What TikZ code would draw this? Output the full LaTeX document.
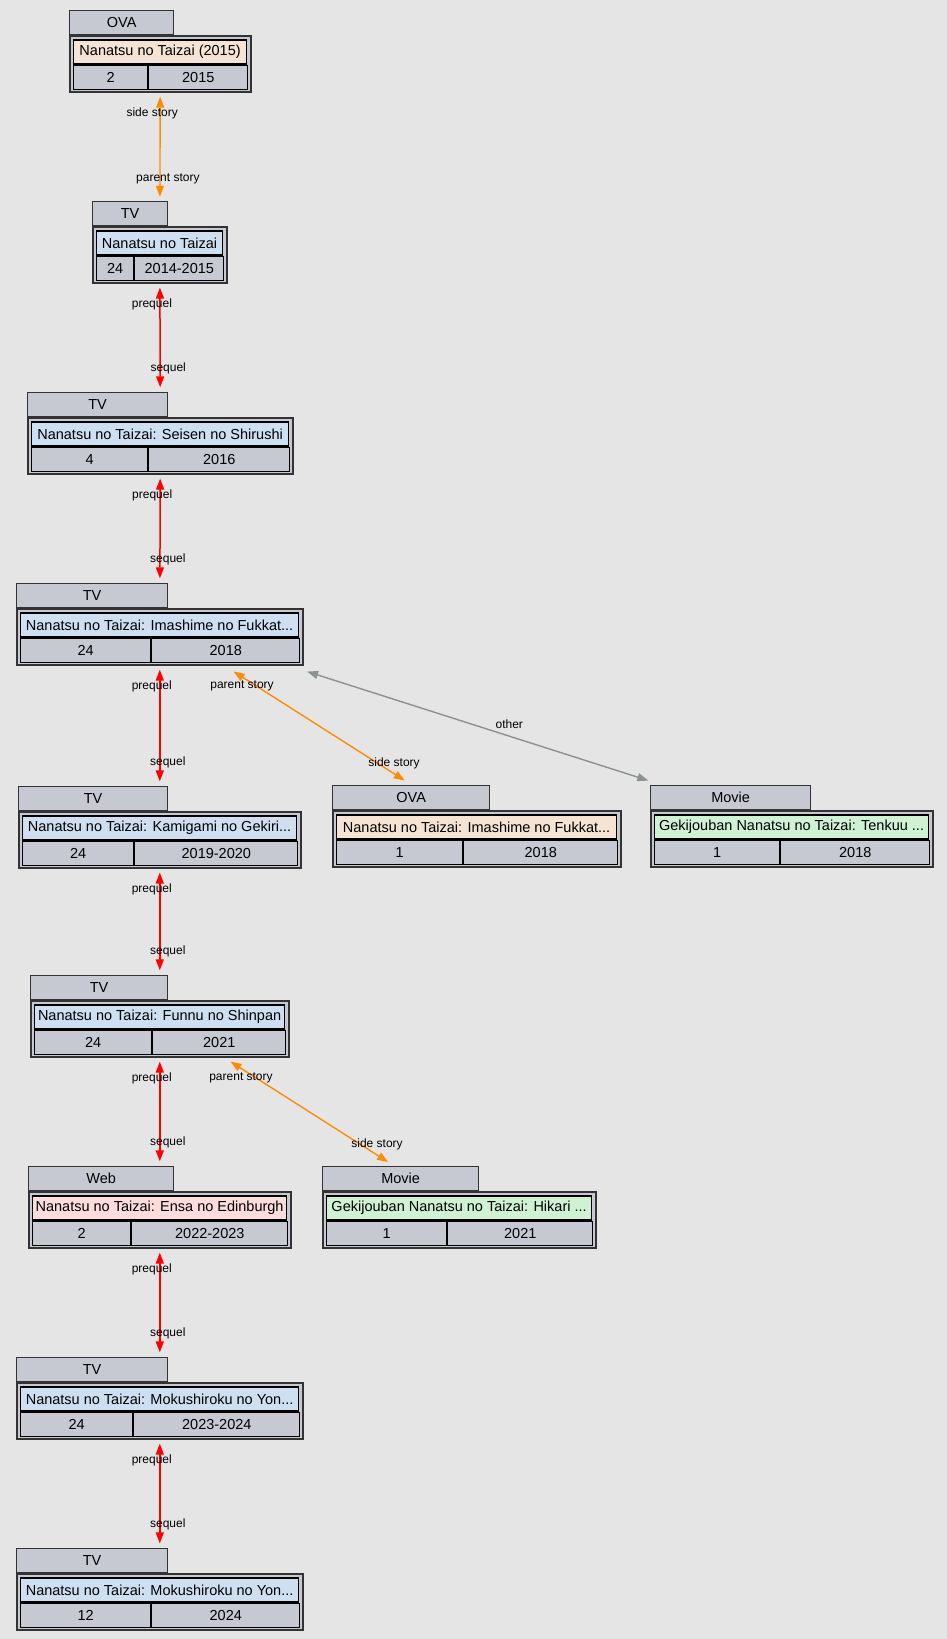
\documentclass[tikz,border=0pt]{standalone}
\usepackage{fontspec}
\setmainfont{Liberation Sans}
\usepackage{xcolor}
\usepackage{tikz}
\usetikzlibrary{arrows.meta,positioning,fit}

\definecolor{bgc}{HTML}{E5E5E5}
\definecolor{cellc}{HTML}{C6C9D1}
\definecolor{tvc}{HTML}{CFDFF2}
\definecolor{ovac}{HTML}{F5E4D3}
\definecolor{moviec}{HTML}{CFF2D4}
\definecolor{webc}{HTML}{FDDCDC}
\definecolor{sidec}{HTML}{FF8C00}
\definecolor{otherc}{HTML}{8A9292}

\begin{document}
\begin{tikzpicture}[x=1pt,y=-1pt,>={Triangle[length=11pt,width=8pt]},
    font=\fontsize{14.5}{17}\selectfont,
    tabbox/.style={draw=black!80,fill=cellc,line width=1.3pt,minimum height=24pt,inner sep=0pt,anchor=north west},
    outerbox/.style={draw=black!80,fill=cellc,line width=1.6pt,minimum height=56pt,inner sep=0pt,anchor=north west},
    cellbox/.style={draw=black,fill=cellc,line width=1.2pt,minimum height=24pt,inner sep=0pt,anchor=north west},
    seqline/.style={<->,red,line width=1.5pt,shorten <=3.5pt,shorten >=4.5pt},
    sideline/.style={<->,sidec,line width=1.4pt},
    otherline/.style={<->,otherc,line width=1.4pt},
    lbl/.style={font=\fontsize{12}{12}\selectfont,inner sep=0pt,text=black}]
    \path[use as bounding box,fill=bgc] (0,0) rectangle (947,1639);
    % name/left/top/type/tab width/box width/colour/title/eps width/eps/year
    \foreach \nm/\lx/\tyy/\kind/\tw/\bw/\col/\ttl/\ew/\eps/\yr in {
        o1/69/10/OVA/104/181/ovac/{Nanatsu no Taizai (2015)}/74/2/2015,
        t1/92/201/TV/75/134/tvc/{Nanatsu no Taizai}/37/24/2014-2015,
        t2/27/392/TV/140/265/tvc/{Nanatsu no Taizai: Seisen no Shirushi}/116/4/2016,
        t3/16/583/TV/151/286/tvc/{Nanatsu no Taizai: Imashime no Fukkat...}/130/24/2018,
        t4/18/786/TV/149/282/tvc/{Nanatsu no Taizai: Kamigami no Gekiri...}/111/24/2019-2020,
        o2/332/785/OVA/157/288/ovac/{Nanatsu no Taizai: Imashime no Fukkat...}/126/1/2018,
        m1/650/785/Movie/160/282/moviec/{Gekijouban Nanatsu no Taizai: Tenkuu ...}/125/1/2018,
        t5/30/975/TV/137/258/tvc/{Nanatsu no Taizai: Funnu no Shinpan}/117/24/2021,
        w1/28/1166/Web/145/262/webc/{Nanatsu no Taizai: Ensa no Edinburgh}/98/2/2022-2023,
        m2/322/1166/Movie/156/273/moviec/{Gekijouban Nanatsu no Taizai: Hikari ...}/120/1/2021,
        t6/16/1357/TV/151/286/tvc/{Nanatsu no Taizai: Mokushiroku no Yon...}/112/24/2023-2024,
        t7/16/1548/TV/151/286/tvc/{Nanatsu no Taizai: Mokushiroku no Yon...}/130/12/2024} {
        \node[tabbox,minimum width=\tw pt] (\nm-tab) at (\lx,\tyy) {\kind};
        \node[outerbox,minimum width=\bw pt] (\nm-box) at (\nm-tab.south west) {};
        \node[cellbox,fill=\col,minimum width=\bw pt-8pt] (\nm-title) at ([shift={(4,4)}]\nm-box.north west) {\ttl};
        \node[cellbox,minimum width=\ew pt] (\nm-eps) at (\nm-title.south west) {\eps};
        \node[cellbox,minimum width=\bw pt-8pt-\ew pt,right=0pt of \nm-eps] (\nm-year) {\yr};
        \node[fit=(\nm-tab)(\nm-box),inner sep=0pt] (\nm) {};
    }
    % prequel / sequel chain
    \foreach \a/\b in {t1/t2,t2/t3,t3/t4,t4/t5,t5/w1,w1/t6,t6/t7}
        \draw[seqline] (\a) -- node[lbl,at start,xshift=-8pt,yshift=-20pt] {prequel}
            node[lbl,at end,xshift=8pt,yshift=23pt] {sequel} (\b);
    \draw[sideline,shorten <=3.5pt,shorten >=4pt] (o1) -- node[lbl,at start,xshift=-8pt,yshift=-20pt] {side story}
        node[lbl,at end,xshift=8pt,yshift=22pt] {parent story} (t1);
    \draw[sideline,shorten <=10pt,shorten >=8pt] (t3) -- node[lbl,at start,xshift=17pt,yshift=-20pt] {parent story}
        node[lbl,at end,xshift=-17.5pt,yshift=21pt] {side story} (o2);
    \draw[otherline,shorten <=18pt,shorten >=14pt] (t3) -- node[lbl,pos=0.59,yshift=12pt] {other} (m1);
    \draw[sideline,shorten <=6.5pt,shorten >=7pt] (t5) -- node[lbl,at start,xshift=16pt,yshift=-20pt] {parent story}
        node[lbl,at end,xshift=-17pt,yshift=21pt] {side story} (m2);
\end{tikzpicture}
\end{document}
